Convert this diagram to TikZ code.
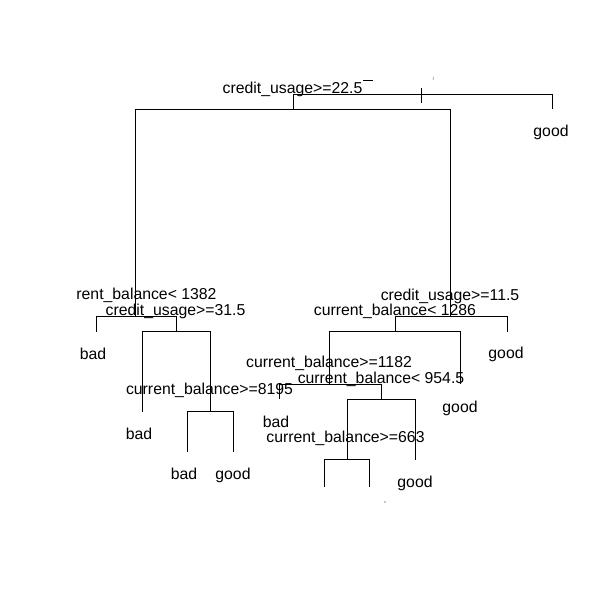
\documentclass[tikz,border=0pt]{standalone}
\usepackage{fontspec}
\setmainfont{Liberation Sans}
\begin{document}
\begin{tikzpicture}[x=1pt,y=-1pt,
  lbl/.style={anchor=base,inner sep=0pt,font=\fontsize{15.8}{18}\selectfont},
  edge/.style={draw=black,line width=1pt}]
\useasboundingbox (0,0) rectangle (610,600);
\fill[white] (0,0) rectangle (610,600);
% labels
\node[lbl] (s1) at (292.5,93) {credit\_usage>=22.5};
\node[lbl] (l1) at (551,136) {good};
\node[lbl] (s2) at (146.5,299) {rent\_balance< 1382};
\node[lbl] (s3) at (175.5,315) {credit\_usage>=31.5};
\node[lbl] (l2) at (93,359) {bad};
\node[lbl] (l3) at (139,439) {bad};
\node[lbl] (s4) at (209.5,394) {current\_balance>=8195};
\node[lbl] (l4) at (184,479) {bad};
\node[lbl] (l5) at (233,479) {good};
\node[lbl] (s5) at (450,300) {credit\_usage>=11.5};
\node[lbl] (s6) at (395,315) {current\_balance< 1286};
\node[lbl] (l6) at (506,358) {good};
\node[lbl] (s7) at (329,367) {current\_balance>=1182};
\node[lbl] (s8) at (381,383) {current\_balance< 954.5};
\node[lbl] (l7) at (460,412) {good};
\node[lbl] (l8) at (276,427) {bad};
\node[lbl] (s9) at (345.5,442) {current\_balance>=663};
\node[lbl] (l9) at (415,487) {good};
% split bar coordinates
\coordinate (aL) at (293,94);  \coordinate (aR) at (552,94);
\coordinate (bL) at (135,109); \coordinate (bR) at (450,109);
\coordinate (cL) at (96,316);  \coordinate (cR) at (176,316);
\coordinate (dL) at (142,331); \coordinate (dR) at (210,331);
\coordinate (eL) at (187,411); \coordinate (eR) at (233,411);
\coordinate (fL) at (395,316); \coordinate (fR) at (507,316);
\coordinate (gL) at (329,331); \coordinate (gR) at (460,331);
\coordinate (hL) at (279,384); \coordinate (hR) at (381,384);
\coordinate (iL) at (347,399); \coordinate (iR) at (415,399);
\coordinate (jL) at (324,459); \coordinate (jR) at (369,459);
% root
\draw[edge] (aL) -- (aR);
\draw[edge] (aL) -- (aL |- bL);
\draw[edge] (aR) -- ++(0,15);
\draw[edge] (421,88) -- (421,103);
% second level
\draw[edge] (bL) -- (bR);
\draw[edge] (bL) -- (bL |- cL);
\draw[edge] (bR) -- (bR |- fL);
% left subtree
\draw[edge] (cL) -- (cR);
\draw[edge] (cL) -- ++(0,16);
\draw[edge] (cR) -- (cR |- dR);
\draw[edge] (dL) -- (dR);
\draw[edge] (dL) -- ++(0,81);
\draw[edge] (dR) -- (dR |- eR);
\draw[edge] (eL) -- (eR);
\draw[edge] (eL) -- ++(0,41);
\draw[edge] (eR) -- ++(0,41);
% right subtree
\draw[edge] (fL) -- (fR);
\draw[edge] (fL) -- (fL |- gL);
\draw[edge] (fR) -- ++(0,16);
\draw[edge] (gL) -- (gR);
\draw[edge] (gL) -- (gL |- hL);
\draw[edge] (gR) -- (gR |- hR);
\draw[edge] (hL) -- (hR);
\draw[edge] (hL) -- ++(0,15);
\draw[edge] (hR) -- (hR |- iR);
\draw[edge] (iL) -- (iR);
\draw[edge] (iL) -- (iL |- jL);
\draw[edge] (iR) -- ++(0,61);
\draw[edge] (jL) -- (jR);
\draw[edge] (jL) -- ++(0,28);
\draw[edge] (jR) -- ++(0,28);
% small stray marks
\draw[line width=0.6pt] (363,80) -- (373,80);
\draw[line width=0.6pt,draw={rgb,255:red,200;green,140;blue,40}] (433.5,77) -- (433,80);
\fill (385,502) circle (0.6);
\end{tikzpicture}
\end{document}
